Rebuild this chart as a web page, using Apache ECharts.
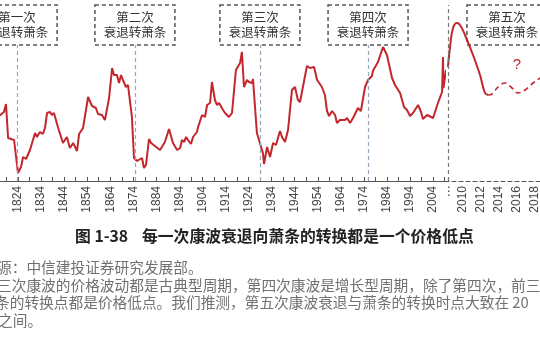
<!DOCTYPE html>
<html>
<head>
<meta charset="utf-8">
<script src="https://cdn.jsdelivr.net/npm/echarts@6/dist/echarts.min.js"></script>
<style>
html,body{margin:0;padding:0;background:#fff;}
#chart{width:540px;height:340px;}
</style>
</head>
<body>
<div id="chart"></div>
<script>
// Long-run commodity price index (arbitrary units), annual points 1816-2010
const BASE_YEAR = 1824;
const years1 = [1815.8,1817.9,1818.8,1819.7,1820.5,1822.3,1822.7,1824.0,1825.3,1826.2,1827.5,1829.2,1831.4,1832.2,1833.5,1834.8,1835.7,1836.6,1837.9,1838.7,1839.6,1841.3,1843.5,1845.2,1846.5,1847.9,1849.6,1850.5,1851.3,1852.2,1854.4,1856.1,1857.8,1858.7,1860.4,1861.7,1863.5,1864.8,1865.6,1866.9,1867.8,1868.7,1869.5,1870.8,1871.7,1873.4,1874.3,1875.6,1877.8,1878.6,1879.5,1880.8,1881.7,1882.5,1885.6,1887.7,1889.5,1891.2,1893.0,1894.3,1895.1,1896.0,1896.9,1897.7,1899.0,1899.9,1901.6,1902.1,1902.9,1903.8,1905.1,1906.0,1906.8,1907.3,1908.1,1909.4,1910.3,1911.2,1912.9,1913.8,1914.6,1915.5,1916.8,1918.5,1920.3,1921.1,1922.0,1923.3,1924.2,1925.5,1925.9,1927.6,1928.9,1930.2,1930.7,1932.0,1933.3,1934.6,1935.9,1937.6,1938.5,1939.8,1941.1,1942.8,1944.1,1945.4,1946.3,1949.3,1950.6,1952.4,1953.7,1955.8,1957.1,1958.0,1958.9,1960.2,1961.5,1962.3,1963.6,1965.8,1966.7,1968.0,1969.3,1971.4,1972.7,1974.5,1975.8,1977.5,1977.9,1980.1,1982.3,1984.0,1986.2,1987.5,1989.7,1990.5,1991.4,1992.7,1994.0,1995.3,1997.5,1998.8,1999.6,2001.4,2004.0,2006.1,2007.9,2008.3,2008.5,2009.6,2010.0,2010.5];
const price1 = [65,69,77,43,41,41,43,8,14,24,22,31,48,44,49,47,53,68,69,66,68,54,38,44,33,38,30,47,45,53,84,75,73,67,66,61,83,113,106,106,98,106,101,94,96,64,23,20,23,13,16,42,38,39,31,39,52,38,31,33,41,39,44,41,37,44,49,54,53,66,64,76,74,78,99,81,76,78,71,68,68,64,68,111,118,129,94,101,99,98,102,48,38,28,17,34,24,38,36,50,44,39,51,91,94,81,79,115,113,114,101,94,86,70,65,70,66,58,61,61,63,58,63,73,70,94,101,105,110,119,134,126,103,96,88,86,74,71,65,68,76,69,62,66,63,78,89,124,93,111,106,114];

// Recent years on an expanded scale
const years2 = [2008.33,2008.56,2008.89,2009.33,2009.67,2010.22,2011.11,2011.89,2012.44,2012.78];
const price2 = [114,134,153,158,156,146,126,106,88,86];

// Projected path
const forecastYears = [2012.78,2013.22,2013.89,2014.67,2015.44,2016.11,2016.89,2017.78,2018.56,2019.44];
const forecastPrice = [86,87,94,98,93,88,91,98,103,110];

// Recession-to-depression turning points
const turnYears = [1823.6, 1874.7, 1928.9, 1975.8];
const turnNames = ['第一次', '第二次', '第三次', '第四次'];
const fifthTurnYear = 2008.33;
const fifthName = '第五次';
const turnSuffix = '衰退转萧条';

const RED = '#c4262d';
const AXIS = '#555';
const FONT_CN = '"Noto Sans CJK SC", "Noto Sans", sans-serif';
const FONT_NUM = '"Liberation Sans", "DejaVu Sans", sans-serif';

const chart = echarts.init(document.getElementById('chart'), null, {renderer: 'canvas'});

const axisLabelBase = {
  rotate: 90,
  fontSize: 12,
  color: '#444',
  fontFamily: FONT_NUM,
  margin: 5
};

chart.setOption({
  animation: false,
  backgroundColor: '#fff',
  grid: [
    {left: -5.06, top: 0, width: 449.67, height: 181, outerBoundsMode: 'none', containLabel: false},
    {left: 445, top: 0, width: 108, height: 181, outerBoundsMode: 'none', containLabel: false}
  ],
  xAxis: [
    {
      type: 'value', gridIndex: 0, min: -10, max: 185, interval: 5,
      splitLine: {show: false},
      axisLine: {lineStyle: {color: AXIS, width: 1.2}},
      axisTick: {inside: true, length: 4, lineStyle: {color: AXIS, width: 1}},
      axisLabel: Object.assign({}, axisLabelBase, {
        formatter: v => (Math.round(v) % 10 === 0 ? String(Math.round(v) + BASE_YEAR) : '')
      })
    },
    {
      type: 'value', gridIndex: 1, min: 2008, max: 2020, interval: 2,
      splitLine: {show: false},
      axisLine: {lineStyle: {color: AXIS, width: 1.2, type: [4, 3]}},
      axisTick: {show: false},
      axisLabel: Object.assign({}, axisLabelBase, {
        formatter: v => (v === 2008 || v > 2018 ? '' : String(v))
      })
    }
  ],
  yAxis: [
    {type: 'value', gridIndex: 0, min: 0, max: 181, show: false},
    {type: 'value', gridIndex: 1, min: 0, max: 181, show: false}
  ],
  series: [
    {
      type: 'line', xAxisIndex: 0, yAxisIndex: 0,
      data: years1.map((y, i) => [y - BASE_YEAR, price1[i]]),
      symbol: 'none', clip: false,
      lineStyle: {color: RED, width: 2},
      markLine: {
        silent: true, symbol: 'none',
        label: {show: false},
        lineStyle: {color: '#93a9bb', width: 1.2, type: [4, 3]},
        data: turnYears.map(t => [{coord: [t - BASE_YEAR, 0]}, {coord: [t - BASE_YEAR, 136]}])
      }
    },
    {
      type: 'line', xAxisIndex: 1, yAxisIndex: 1,
      data: years2.map((y, i) => [y, price2[i]]),
      symbol: 'none', smooth: 0.4, clip: false,
      lineStyle: {color: RED, width: 2},
      markLine: {
        silent: true, symbol: 'none',
        label: {show: false},
        lineStyle: {color: '#777', width: 1.2, type: [4, 3]},
        data: [[{coord: [fifthTurnYear, 0]}, {coord: [fifthTurnYear, 176]}]]
      }
    },
    {
      type: 'line', xAxisIndex: 1, yAxisIndex: 1,
      data: forecastYears.map((y, i) => [y, forecastPrice[i]]),
      symbol: 'none', smooth: 0.45, clip: false,
      lineStyle: {color: RED, width: 1.6, type: [5, 4]},
      markPoint: {
        silent: true,
        symbol: 'circle', symbolSize: 1,
        itemStyle: {color: 'rgba(0,0,0,0)'},
        label: {show: true, position: 'inside', formatter: '?', color: RED, fontSize: 15, fontFamily: FONT_NUM},
        data: [{coord: [2016.0, 116]}]
      }
    }
  ]
});

// Annotation boxes, captions and notes
function textEl(text, x, y, opts) {
  return {
    type: 'text', silent: true,
    style: Object.assign({
      text: text, x: x, y: y,
      fill: '#333', fontSize: 12.5, fontFamily: FONT_CN,
      align: 'center', verticalAlign: 'middle',
      textAlign: 'center', textVerticalAlign: 'middle'
    }, opts || {})
  };
}
function boxEls(cx, name) {
  const w = 80, h = 40, top = 5;
  return [
    {type: 'rect', silent: true, shape: {x: cx - w / 2, y: top, width: w, height: h},
     style: {fill: '#fff', stroke: AXIS, lineWidth: 1.5, lineDash: [4, 3]}},
    textEl(name, cx, 17.5),
    textEl(turnSuffix, cx, 32.5)
  ];
}

const elements = [];
turnYears.forEach((t, i) => {
  const cx = chart.convertToPixel({xAxisIndex: 0}, t - BASE_YEAR);
  elements.push(...boxEls(cx, turnNames[i]));
});
const x5 = chart.convertToPixel({xAxisIndex: 1}, fifthTurnYear);
elements.push(...boxEls(x5 + 59, fifthName));

// break marker on the time axis
elements.push(textEl('⋮', x5 + 1, 192, {fontSize: 12, fill: '#444', fontFamily: '"DejaVu Sans", sans-serif'}));

// figure caption
elements.push(textEl('图 1-38', 75, 236, {align: 'left', textAlign: 'left', fontSize: 15.8, fontWeight: 'bold', fill: '#222'}));
elements.push(textEl('每一次康波衰退向萧条的转换都是一个价格低点', 142, 236, {align: 'left', textAlign: 'left', fontSize: 15.8, fontWeight: 'bold', fill: '#222'}));

// source and notes
const noteLines = [
  '源：中信建投证券研究发展部。',
  '三次康波的价格波动都是古典型周期，第四次康波是增长型周期，除了第四次，前三',
  '条的转换点都是价格低点。我们推测，第五次康波衰退与萧条的转换时点大致在 20',
  '之间。'
];
const noteX = [-3, -3, -5, -2];
const noteY = [267.5, 285, 302.5, 320];
noteLines.forEach((s, i) => {
  elements.push(textEl(s, noteX[i], noteY[i], {align: 'left', textAlign: 'left', fontSize: 14.7, fill: '#707070'}));
});

chart.setOption({graphic: {elements: elements}});
</script>
</body>
</html>
